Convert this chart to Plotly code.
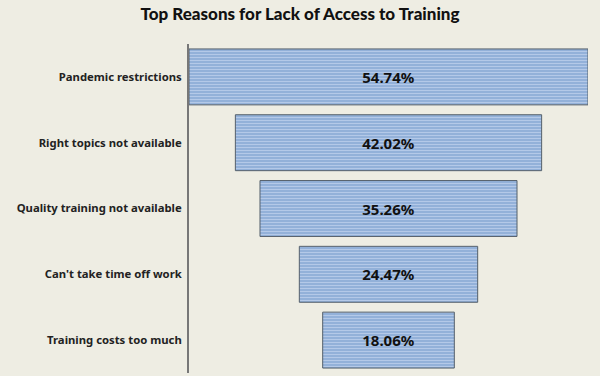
import plotly.graph_objects as go

categories = ["Pandemic restrictions", "Right topics not available",
              "Quality training not available", "Can't take time off work",
              "Training costs too much"]
values = [54.74, 42.02, 35.26, 24.47, 18.06]
labels = [f"{v:.2f}%" for v in values]

fig = go.Figure(go.Bar(
    orientation="h",
    y=categories, x=values, base=[-v / 2 for v in values],
    text=labels, textposition="inside", insidetextanchor="middle",
    textangle=0,
    textfont=dict(family="Noto Sans", size=15, color="#111111", weight="bold"),
    marker=dict(color="#95B3DA",
                line=dict(color="#55606b", width=1),
                pattern=dict(shape="-", fgcolor="#B4C9E8", bgcolor="#93B1D9",
                             size=3, solidity=0.35, fillmode="replace")),
    hoverinfo="skip",
))

half = max(values) / 2
fig.update_layout(
    width=600, height=376,
    paper_bgcolor="#EEEDE3", plot_bgcolor="#EEEDE3",
    margin=dict(l=189, r=12, t=44, b=3),
    title=dict(text="Top Reasons for Lack of Access to Training",
               x=0.5, xanchor="center", y=0.962, yanchor="middle",
               font=dict(family="Lato", size=17, color="#111111", weight=900)),
    bargap=0.15,
    showlegend=False,
)
fig.update_xaxes(range=[-half, half], visible=False)
fig.update_yaxes(showline=True, linecolor="#777777", linewidth=2,
                 autorange="reversed",
                 tickfont=dict(family="Noto Sans", size=11.3, color="#222222", weight="bold"),
                 ticks="", ticklabelstandoff=3, showgrid=False)

fig.write_html("out.html",
               config={"displayModeBar": False},
               post_script="document.body.style.margin='0';"
                           "document.body.style.background='#EEEDE3';")
